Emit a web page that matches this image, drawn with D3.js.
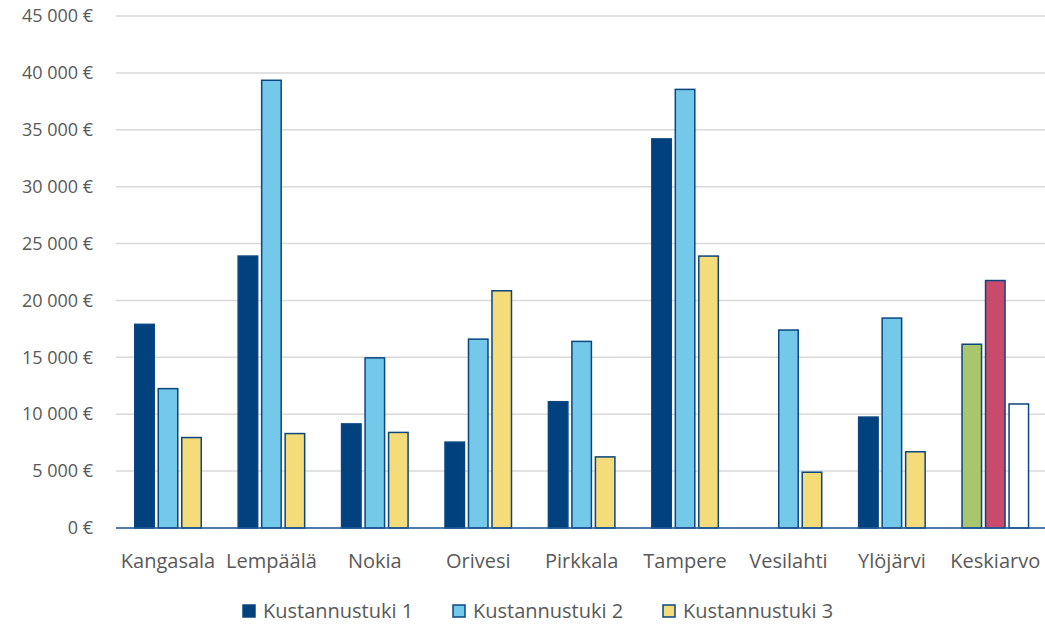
<!DOCTYPE html>
<html><head><meta charset="utf-8">
<script src="https://cdn.jsdelivr.net/npm/d3@7"></script>
<style>
body{margin:0;background:#fff;}
text{font-family:"Open Sans", sans-serif;fill:#595959;}
</style></head>
<body><svg id="c" width="1045" height="624"></svg>
<script>
const categories = ["Kangasala","Lempäälä","Nokia","Orivesi","Pirkkala","Tampere","Vesilahti","Ylöjärvi","Keskiarvo"];
const seriesNames = ["Kustannustuki 1","Kustannustuki 2","Kustannustuki 3"];
const k1 = [17900, 23900, 9150, 7550, 11100, 34200, null, 9750, 16150];
const k2 = [12250, 39350, 14950, 16600, 16400, 38550, 17400, 18450, 21750];
const k3 = [7950, 8300, 8400, 20850, 6250, 23900, 4900, 6700, 10900];
const yTicks = [0,5000,10000,15000,20000,25000,30000,35000,40000,45000];

const colors = ["#00417E","#74C8EA","#F5DC7A"];
const avgColors = ["#A9C66E","#C94A6A","#FFFFFF"];
const stroke = "#0A4680";
const FONT = "'Open Sans', sans-serif";

const svg = d3.select("#c");
const m = {l:116, r:1045, t:16, b:528};
const x = d3.scaleBand().domain(categories).range([116.3, 1047]).paddingInner(0).paddingOuter(0);
const y = d3.scaleLinear().domain([0,45000]).range([m.b, m.t]);
const fmt = v => d3.format(",")(v).replace(/,/g," ") + " €";

// grid
svg.append("g").selectAll("line").data(yTicks).join("line")
  .attr("x1", m.l).attr("x2", m.r)
  .attr("y1", d=>y(d)).attr("y2", d=>y(d))
  .attr("stroke", "#D9D9D9").attr("stroke-width", 1.5);

// y labels
const yAxis = d3.axisLeft(y).tickValues(yTicks).tickFormat(fmt).tickSize(0).tickPadding(0);
const ya = svg.append("g").attr("transform", `translate(93,0)`).call(yAxis);
ya.select(".domain").remove();
ya.selectAll("text").attr("font-size", 18).attr("fill","#595959").style("font-family",FONT);

const series = [k1,k2,k3];
const bw = 19.5, gap = 4;
const groupW = 3*bw + 2*gap;
const sub = d3.scaleBand().domain([0,1,2]).range([0, groupW]).paddingInner(gap/(bw+gap)).paddingOuter(0);

const data = [];
categories.forEach((c,i)=>{
  series.forEach((s,j)=>{
    if (s[i] != null) data.push({c, j, v:s[i], avg: c==="Keskiarvo"});
  });
});

svg.append("g").selectAll("rect").data(data).join("rect")
  .attr("x", d => x(d.c) + x.bandwidth()/2 - groupW/2 + sub(d.j))
  .attr("width", sub.bandwidth())
  .attr("y", d => y(d.v))
  .attr("height", d => y(0) - y(d.v))
  .attr("fill", d => d.avg ? avgColors[d.j] : colors[d.j])
  .attr("stroke", stroke).attr("stroke-width", 1.5);

// x axis line
svg.append("line").attr("x1", m.l).attr("x2", m.r).attr("y1", y(0)).attr("y2", y(0))
  .attr("stroke", "#1F5A96").attr("stroke-width", 1.5);

// x labels
const xAxis = d3.axisBottom(x).tickSize(0).tickPadding(0);
const xa = svg.append("g").attr("transform", `translate(0,${y(0)+34})`).call(xAxis);
xa.select(".domain").remove();
xa.selectAll("text").attr("font-size", 20).attr("fill","#595959").attr("dy","0.32em").attr("y",0).style("font-family",FONT);

// legend
const legX = [243, 453, 663];
const lg = svg.append("g").selectAll("g").data(seriesNames).join("g")
  .attr("transform", (d,i)=>`translate(${legX[i]},611)`);
lg.append("rect").attr("x",0).attr("y",-6).attr("width",12).attr("height",12)
  .attr("fill",(d,i)=>colors[i]).attr("stroke",stroke).attr("stroke-width",1.5);
lg.append("text").attr("x",20).attr("y",0).attr("dy","0.35em").attr("font-size",20).style("font-family",FONT).text(d=>d);
</script></body></html>
